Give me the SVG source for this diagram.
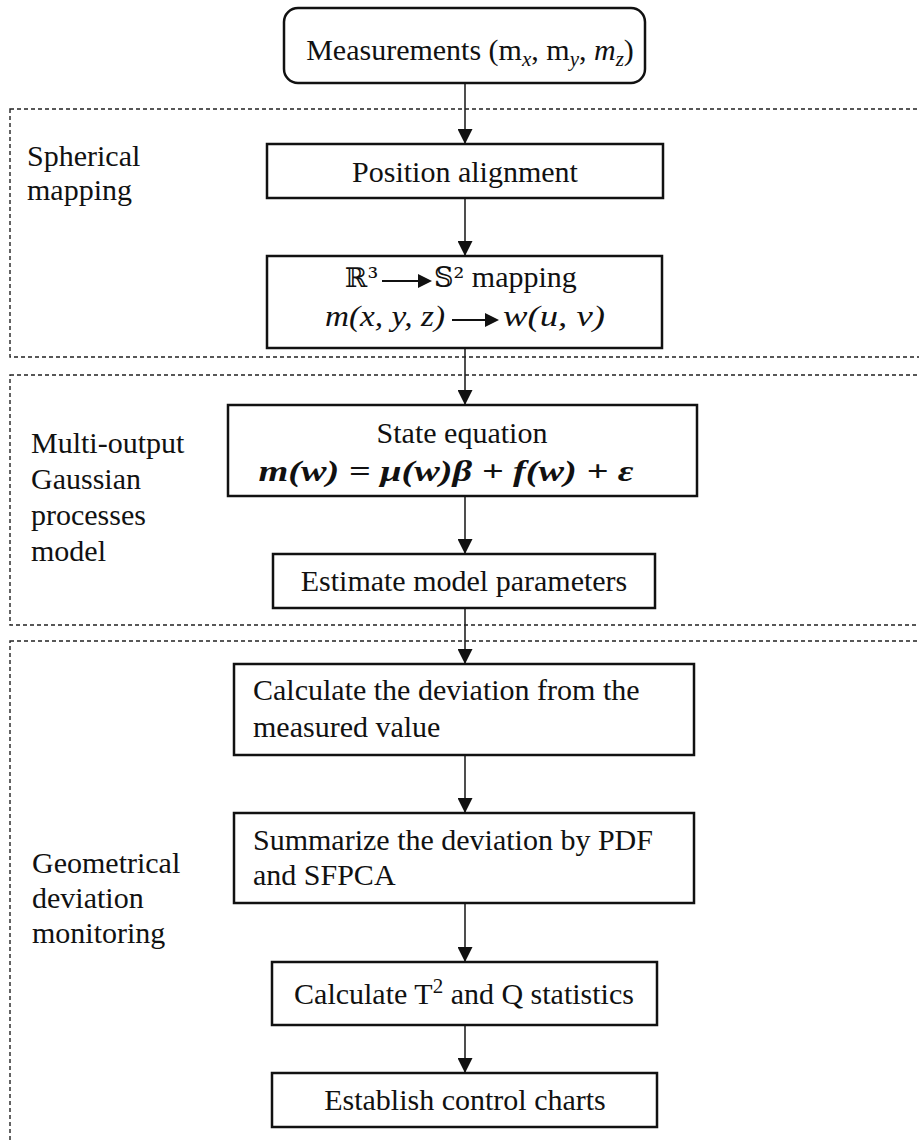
<svg xmlns="http://www.w3.org/2000/svg" width="919" height="1142" viewBox="0 0 919 1142">
<style>
  text { font-family: "Liberation Serif", "Times New Roman", serif; font-size: 30px; fill: #111; }
  .box { fill: #fff; stroke: #111; stroke-width: 2.5; }
  .region { fill: none; stroke: #222; stroke-width: 1.4; stroke-dasharray: 4 3; }
  .conn { stroke: #222; stroke-width: 1.6; fill: none; }
  .mid { text-anchor: middle; }
  .it { font-style: italic; }
  .ds { font-family: "DejaVu Serif", "DejaVu Sans", serif; font-size: 27px; }
</style>
<defs>
  <marker id="ah" viewBox="0 0 10 10" refX="10" refY="5" markerWidth="15" markerHeight="15" markerUnits="userSpaceOnUse" orient="auto">
    <path d="M0,0 L10,5 L0,10 Z" fill="#111"/>
  </marker>
</defs>
<rect width="919" height="1142" fill="#fff"/>

<g id="regions">
  <rect class="region" x="10" y="109" width="930" height="248"/>
  <rect class="region" x="10" y="375" width="930" height="250"/>
  <rect class="region" x="10" y="641" width="930" height="520"/>
</g>

<g id="region-labels">
  <text x="27" y="166">Spherical</text>
  <text x="27" y="200">mapping</text>
  <text x="31" y="453">Multi-output</text>
  <text x="31" y="489">Gaussian</text>
  <text x="31" y="525">processes</text>
  <text x="31" y="561">model</text>
  <text x="32" y="873">Geometrical</text>
  <text x="32" y="908">deviation</text>
  <text x="32" y="943">monitoring</text>
</g>

<g id="connectors">
  <line class="conn" x1="465" y1="83" x2="465" y2="144" marker-end="url(#ah)"/>
  <line class="conn" x1="465" y1="198" x2="465" y2="256" marker-end="url(#ah)"/>
  <line class="conn" x1="465" y1="348" x2="465" y2="405" marker-end="url(#ah)"/>
  <line class="conn" x1="465" y1="496" x2="465" y2="554" marker-end="url(#ah)"/>
  <line class="conn" x1="465" y1="608" x2="465" y2="664" marker-end="url(#ah)"/>
  <line class="conn" x1="465" y1="755" x2="465" y2="813" marker-end="url(#ah)"/>
  <line class="conn" x1="465" y1="903" x2="465" y2="962" marker-end="url(#ah)"/>
  <line class="conn" x1="465" y1="1025" x2="465" y2="1073" marker-end="url(#ah)"/>
</g>

<g id="measurements">
  <rect class="box" x="284" y="8" width="361" height="75" rx="14" ry="14"/>
  <text x="470" y="60" class="mid" font-size="31">Measurements (m<tspan class="it" font-size="21" dy="6">x</tspan><tspan dy="-6">, m</tspan><tspan class="it" font-size="21" dy="6">y</tspan><tspan dy="-6">, </tspan><tspan class="it">m</tspan><tspan class="it" font-size="21" dy="6">z</tspan><tspan dy="-6">)</tspan></text>
</g>

<g id="position-alignment">
  <rect class="box" x="267" y="144" width="396" height="54"/>
  <text x="465" y="182" class="mid">Position alignment</text>
</g>

<g id="mapping">
  <rect class="box" x="267" y="256" width="395" height="92"/>
  <text x="345" y="287" class="ds">ℝ³</text>
  <line x1="382" y1="281" x2="420" y2="281" stroke="#111" stroke-width="2"/>
  <path d="M418,274 L432,281 L418,288 Z" fill="#111"/>
  <text x="434" y="287"><tspan class="ds">𝕊²</tspan> mapping</text>
  <text x="445" y="326" class="it" text-anchor="end" textLength="120" lengthAdjust="spacingAndGlyphs">m(x, y, z)</text>
  <line x1="452" y1="320" x2="487" y2="320" stroke="#111" stroke-width="2"/>
  <path d="M485,313 L499,320 L485,327 Z" fill="#111"/>
  <text x="503" y="326" class="it" textLength="102" lengthAdjust="spacingAndGlyphs">w(u, v)</text>
</g>

<g id="state-equation">
  <rect class="box" x="228" y="405" width="469" height="91"/>
  <text x="462" y="443" class="mid">State equation</text>
  <text x="446" y="481" class="mid it" font-weight="bold" textLength="375" lengthAdjust="spacingAndGlyphs">m(w) = μ(w)β + f(w) + ε</text>
</g>

<g id="estimate">
  <rect class="box" x="273" y="554" width="382" height="54"/>
  <text x="464" y="591" class="mid">Estimate model parameters</text>
</g>

<g id="calc-deviation">
  <rect class="box" x="234" y="664" width="460" height="91"/>
  <text x="253" y="700">Calculate the deviation from the</text>
  <text x="253" y="737">measured value</text>
</g>

<g id="summarize">
  <rect class="box" x="234" y="813" width="460" height="90"/>
  <text x="253" y="850">Summarize the deviation by PDF</text>
  <text x="253" y="885">and SFPCA</text>
</g>

<g id="calc-stats">
  <rect class="box" x="272" y="962" width="385" height="63"/>
  <text x="464" y="1004" class="mid">Calculate T<tspan font-size="21" dy="-11">2</tspan><tspan dy="11"> and Q statistics</tspan></text>
</g>

<g id="control-charts">
  <rect class="box" x="272" y="1073" width="385" height="54"/>
  <text x="465" y="1110" class="mid">Establish control charts</text>
</g>
</svg>
